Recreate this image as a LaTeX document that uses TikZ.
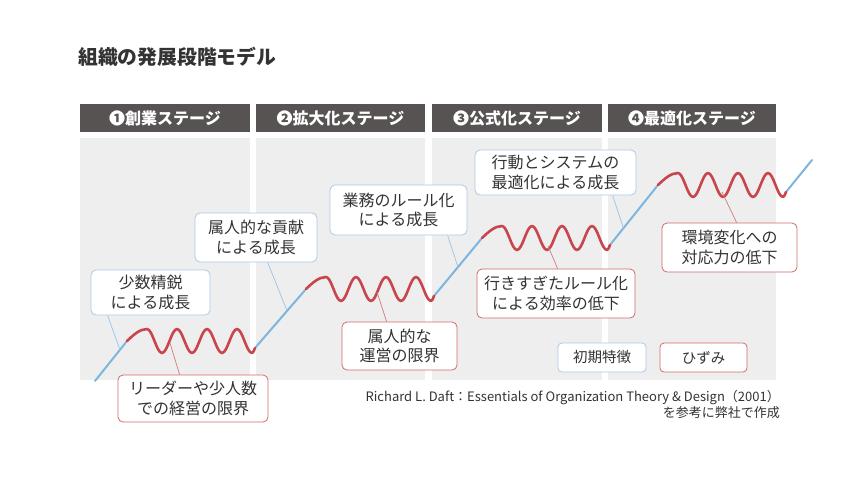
\documentclass[tikz,border=0pt]{standalone}
\usepackage{fontspec}
\newfontfamily\cjk{Noto Sans CJK JP}
\usetikzlibrary{calc}
\definecolor{panelgray}{HTML}{EEEEEE}
\definecolor{headgray}{HTML}{575353}
\definecolor{growblue}{HTML}{7DB5DF}
\definecolor{strainred}{HTML}{C8454B}
\definecolor{boxblue}{HTML}{A9C9E8}
\definecolor{boxred}{HTML}{D26A6A}
\definecolor{leadblue}{HTML}{9CC3E6}
\definecolor{leadred}{HTML}{D47A7A}
\definecolor{txt}{HTML}{333333}
\pgfdeclarelayer{back}
\pgfdeclarelayer{mid}
\pgfsetlayers{back,mid,main}
\newcommand\strainwave[2]{%
  \begin{scope}[shift={(#1,#2)}]
    \draw[strainline] (0,0) sin (20,-12) cos (27.5,0) sin (35,12) cos (42.5,0)
      sin (50,-12) cos (57.5,0) sin (65,12) cos (72.5,0)
      sin (80,-12) cos (87.5,0) sin (95,12) cos (102.5,0)
      sin (110,-12) cos (117.5,0) sin (125,12) cos (128,7);
  \end{scope}}
\begin{document}
\begin{tikzpicture}[x=1pt,y=-1pt,
  headbar/.style={fill=headgray, text=white, minimum width=170pt, minimum height=28pt,
    inner sep=0pt, font=\cjk\bfseries\fontsize{16}{16}\selectfont},
  growline/.style={draw=growblue, line width=2pt, line cap=round},
  strainline/.style={draw=strainred, line width=2.6pt, line cap=round, line join=round},
  callout/.style={fill=white, rounded corners=5pt, line width=0.8pt, align=center,
    inner sep=0pt, font=\cjk\fontsize{16}{19.5}\selectfont, text=txt},
  growbox/.style={callout, draw=boxblue},
  strainbox/.style={callout, draw=boxred},
  growlead/.style={draw=leadblue, line width=0.7pt},
  strainlead/.style={draw=leadred, line width=0.7pt},
]
\useasboundingbox (0,0) rectangle (860,480);

% title
\node[anchor=west, inner sep=0pt, text=txt, font=\cjk\bfseries\fontsize{19.8}{20}\selectfont]
  (title) at (78,57) {組織の発展段階モデル};

% panels
\begin{pgfonlayer}{back}
\fill[panelgray] (80,138) rectangle (250,380);
\fill[panelgray] (256,138) rectangle (425,380);
\fill[panelgray] (432,138) rectangle (602,380);
\fill[panelgray] (608,138) rectangle (776,380);
\end{pgfonlayer}

% headers
\node[headbar] (h1) at (165,118) {❶創業ステージ};
\node[headbar, minimum width=169pt] (h2) at (340.5,118) {❷拡大化ステージ};
\node[headbar] (h3) at (517,118) {❸公式化ステージ};
\node[headbar, minimum width=168pt] (h4) at (692,118) {❹最適化ステージ};

% curve
\coordinate (start) at (95,381);
\coordinate (w1s) at (127,341);
\coordinate (w1e) at (255,348);
\coordinate (w2s) at (306,289);
\coordinate (w2e) at (434,296);
\coordinate (w3s) at (482,238);
\coordinate (w3e) at (610,245);
\coordinate (w4s) at (658,185);
\coordinate (w4e) at (786,192);
\coordinate (finish) at (812,160);

\begin{pgfonlayer}{mid}
\draw[growline] (start) -- (w1s) coordinate[pos=0.78] (g1);
\draw[growline] (w1e) -- (w2s) coordinate[pos=0.63] (g2);
\draw[growline] (w2e) -- (w3s) coordinate[pos=0.5] (g3);
\draw[growline] (w3e) -- (w4s) coordinate[pos=0.28] (g4);
\draw[growline] (w4e) -- (finish);
\strainwave{127}{341}
\strainwave{306}{289}
\strainwave{482}{238}
\strainwave{658}{185}
\end{pgfonlayer}

\coordinate (s1) at (170,343);
\coordinate (s2) at (377,292);
\coordinate (s3) at (548,246);
\coordinate (s4) at (722,192);

% callouts
\node[growbox, minimum width=119pt, minimum height=45pt] (b1) at (150.5,292.5) {少数精鋭\\による成長};
\node[strainbox, minimum width=150pt, minimum height=47pt] (b2) at (193,398.5) {リーダーや少人数\\での経営の限界};
\node[growbox, minimum width=122pt, minimum height=49pt] (b3) at (256,237.5) {属人的な貢献\\による成長};
\node[strainbox, minimum width=115pt, minimum height=48pt] (b4) at (399.5,346) {属人的な\\運営の限界};
\node[growbox, minimum width=137pt, minimum height=50pt] (b5) at (398.5,210) {業務のルール化\\による成長};
\node[strainbox, minimum width=158pt, minimum height=49pt] (b6) at (556,293.5) {行きすぎたルール化\\による効率の低下};
\node[growbox, minimum width=161pt, minimum height=45pt] (b7) at (555.5,172.5) {行動とシステムの\\最適化による成長};
\node[strainbox, minimum width=135pt, minimum height=49pt] (b8) at (729.5,247.5) {環境変化への\\対応力の低下};

% leaders
\begin{pgfonlayer}{mid}
\draw[growlead] ($(b1.south west)+(17,0)$) -- (g1);
\draw[strainlead] ($(b2.north west)+(62,0)$) -- (s1);
\draw[growlead] ($(b3.south west)+(73,0)$) -- (g2);
\draw[strainlead] ($(b4.north west)+(45,0)$) -- (s2);
\draw[growlead] ($(b5.south west)+(118,0)$) -- (g3);
\draw[strainlead] ($(b6.north west)+(81,0)$) -- (s3);
\draw[growlead] ($(b7.south west)+(138,0)$) -- (g4);
\draw[strainlead] ($(b8.north west)+(75,0)$) -- (s4);
\end{pgfonlayer}

% legend
\node[growbox, rounded corners=4pt, minimum width=88pt, minimum height=29pt,
  font=\cjk\fontsize{14.5}{15}\selectfont] (leg1) at (602,357.5) {初期特徴};
\node[strainbox, rounded corners=4pt, minimum width=87pt, minimum height=29pt,
  font=\cjk\fontsize{14.5}{15}\selectfont] (leg2) at (703.5,357.5) {ひずみ};

% citation
\node[anchor=north east, align=right, inner sep=0pt, text=txt,
  font=\cjk\fontsize{13}{16}\selectfont] (cite) at (780,390)
  {Richard L. Daft：Essentials of Organization Theory \& Design（2001）\\を参考に弊社で作成};
\end{tikzpicture}
\end{document}
